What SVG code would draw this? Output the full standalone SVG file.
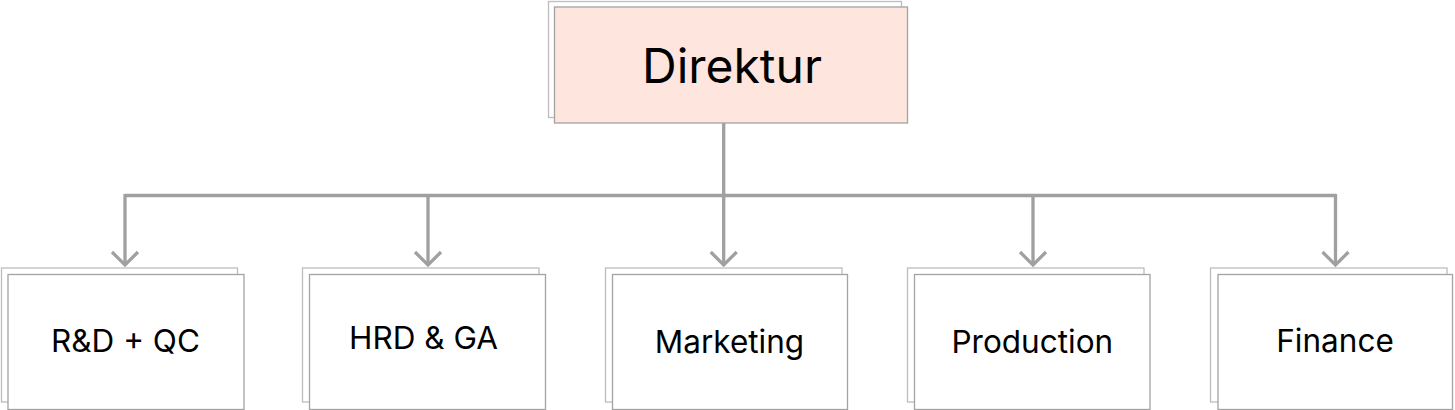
<svg xmlns="http://www.w3.org/2000/svg" width="1455" height="410" viewBox="0 0 1455 410">
<style>
.back{fill:#ffffff;stroke:#bdbdbd;stroke-width:1.3}
.front{fill:#ffffff;stroke:#a3a3a3;stroke-width:1.3}
.top{fill:#fee5dd}
.lbl{font-family:Inter,"Liberation Sans",sans-serif;font-size:31.5px;fill:#000;text-anchor:middle}
.big{font-size:48px}
.conn{fill:none;stroke:#a0a0a0;stroke-width:3.3}
.head{fill:none;stroke:#a0a0a0;stroke-width:3.3;stroke-linecap:butt;stroke-linejoin:miter}
</style>
<rect width="1455" height="410" fill="#ffffff"/>
<g id="connectors">
<path class="conn" d="M723.7,123 V266"/>
<path class="conn" d="M125,195.5 H1336"/>
<path class="conn" d="M125,194 V265"/>
<path class="conn" d="M428,195.5 V265"/>
<path class="conn" d="M1033,195.5 V265"/>
<path class="conn" d="M1335.5,194 V265"/>
<path class="head" d="M112,252 L125,265 L138,252"/>
<path class="head" d="M415,252 L428,265 L441,252"/>
<path class="head" d="M710.7,252 L723.7,265 L736.7,252"/>
<path class="head" d="M1020,252 L1033,265 L1046,252"/>
<path class="head" d="M1322.5,252 L1335.5,265 L1348.5,252"/>
</g>
<g id="direktur">
<rect class="back" x="548.5" y="1.5" width="353" height="116"/>
<rect class="front top" x="554.5" y="7" width="353" height="116"/>
<text class="lbl big" x="732" y="83">Direktur</text>
</g>
<g id="rnd-qc">
<rect class="back" x="1.5" y="268" width="236" height="134"/>
<rect class="front" x="8" y="274.5" width="236" height="135"/>
<text class="lbl" x="125.5" y="352">R&amp;D + QC</text>
</g>
<g id="hrd-ga">
<rect class="back" x="302.5" y="268" width="236.5" height="134"/>
<rect class="front" x="309.5" y="274.5" width="236" height="135"/>
<text class="lbl" x="423.5" y="348.5">HRD &amp; GA</text>
</g>
<g id="marketing">
<rect class="back" x="605.5" y="268" width="236.5" height="134"/>
<rect class="front" x="612.5" y="274.5" width="235" height="135"/>
<text class="lbl" x="729.5" y="352.5">Marketing</text>
</g>
<g id="production">
<rect class="back" x="907.5" y="268" width="236.5" height="134"/>
<rect class="front" x="914.5" y="274.5" width="235.5" height="135"/>
<text class="lbl" x="1032.3" y="352.5">Production</text>
</g>
<g id="finance">
<rect class="back" x="1210.5" y="268" width="236.5" height="134"/>
<rect class="front" x="1218" y="274.5" width="234.5" height="135"/>
<text class="lbl" x="1335" y="352">Finance</text>
</g>
</svg>
